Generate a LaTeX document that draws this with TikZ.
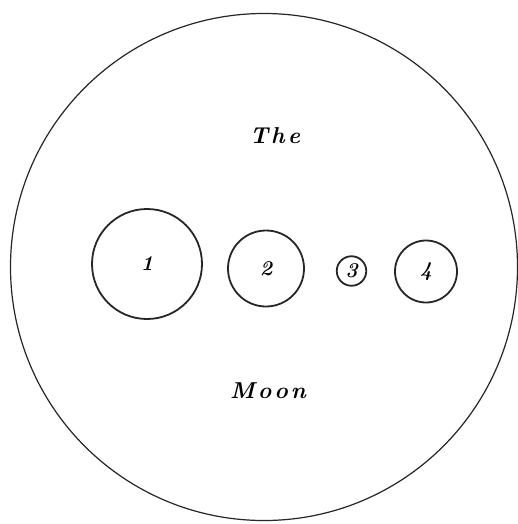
\documentclass[tikz,border=0pt]{standalone}
\usepackage{tikz}
\begin{document}
\begin{tikzpicture}[x=1pt,y=-1pt,
  outer/.style={draw=black!85,line width=1.2pt},
  crater/.style={circle,draw=black!85,line width=1.8pt,inner sep=0pt,font=\fontsize{21}{21}\selectfont\bfseries\itshape},
  word/.style={font=\fontsize{23}{23}\selectfont\bfseries\itshape}]
\useasboundingbox (0,0) rectangle (518,524);
\fill[white] (0,0) rectangle (518,524);
\node[circle,outer,minimum size=507pt,inner sep=0pt] (moon) at (264,267) {};
\node[crater,minimum size=110pt] (c1) at (147,264) {1};
\node[crater,minimum size=76pt] (c2) at (266,268.5) {2};
\node[crater,minimum size=29.5pt] (c3) at (351.5,271) {3};
\node[crater,minimum size=62pt] (c4) at (426,271.5) {4};
\node[word] (the) at (275,136) {T\kern3pt h\kern3pt e};
\node[word] (mn) at (268,391) {M\kern3pt o\kern3pt o\kern3pt n};
\end{tikzpicture}
\end{document}
